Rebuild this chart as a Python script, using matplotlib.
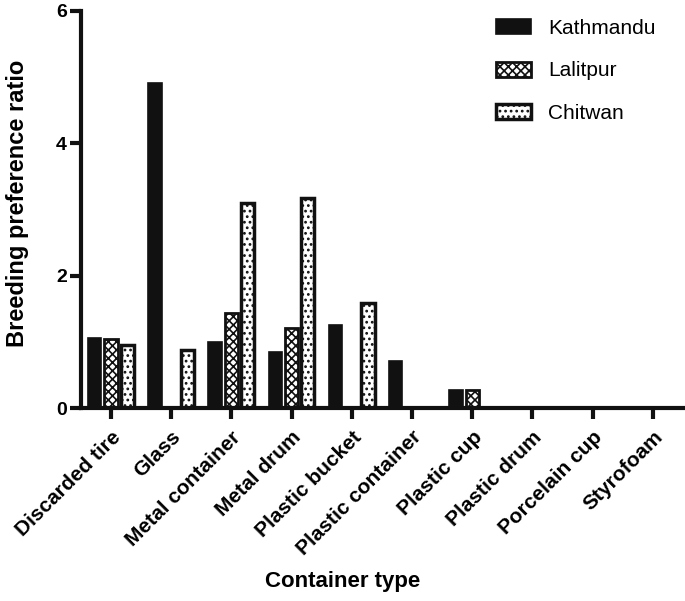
import matplotlib.pyplot as plt
import matplotlib.transforms as mtransforms
import numpy as np

plt.rcParams['font.family'] = ['Liberation Sans', 'DejaVu Sans']
plt.rcParams['hatch.linewidth'] = 1.2

containers = ['Discarded tire', 'Glass', 'Metal container', 'Metal drum',
              'Plastic bucket', 'Plastic container', 'Plastic cup',
              'Plastic drum', 'Porcelain cup', 'Styrofoam']
kathmandu = [1.06, 4.91, 1.00, 0.84, 1.25, 0.71, 0.27, 0, 0, 0]
lalitpur = [1.04, 0, 1.44, 1.21, 0, 0, 0.27, 0, 0, 0]
chitwan = [0.95, 0.87, 3.10, 3.18, 1.59, 0, 0, 0, 0, 0]

fig = plt.figure(figsize=(6.85, 6.01), dpi=100)
ax = fig.add_axes([0.118, 0.321, 0.879, 0.661])

x = np.arange(len(containers))
w = 0.22
off = 0.27
ax.bar(x - off, kathmandu, w, color='#111111', edgecolor='#111111',
       linewidth=1.2, label='Kathmandu')
ax.bar(x, lalitpur, w, color='white', edgecolor='#111111', hatch='xxxx',
       linewidth=2, label='Lalitpur')
ax.bar(x + off, chitwan, w, color='white', edgecolor='#111111', hatch='...',
       linewidth=2.5, label='Chitwan')

ax.set_xlim(-0.5, 9.5)
ax.set_ylim(0, 6)
ax.set_yticks([0, 2, 4, 6])
ax.set_xticks(x)
ax.set_xticklabels(containers, rotation=45, ha='right', rotation_mode='anchor',
                   fontsize=15, fontweight='bold')
shift = mtransforms.ScaledTranslation(-0.04, 0, fig.dpi_scale_trans)
for lab in ax.get_xticklabels():
    lab.set_transform(lab.get_transform() + shift)
for lab in ax.get_yticklabels():
    lab.set_fontsize(14)
    lab.set_fontweight('bold')

for s in ['top', 'right']:
    ax.spines[s].set_visible(False)
for s in ['left', 'bottom']:
    ax.spines[s].set_linewidth(3)
    ax.spines[s].set_color('#111111')
ax.tick_params(width=3, length=8, color='#111111')
ax.tick_params(axis='y', pad=2)
ax.tick_params(axis='x', pad=6)

ax.set_ylabel('Breeding preference ratio', fontsize=17, fontweight='bold')
ax.yaxis.set_label_coords(-0.086, 0.516)
ax.set_xlabel('Container type', fontsize=16, fontweight='bold')
ax.xaxis.set_label_coords(0.435, -0.41)

ax.legend(loc='upper left', bbox_to_anchor=(0.689, 0.979), frameon=False,
          fontsize=15, handlelength=1.7, handleheight=0.72, labelspacing=1.12,
          handletextpad=0.8, borderpad=0, borderaxespad=0)

fig.savefig('out.png', dpi=100)
